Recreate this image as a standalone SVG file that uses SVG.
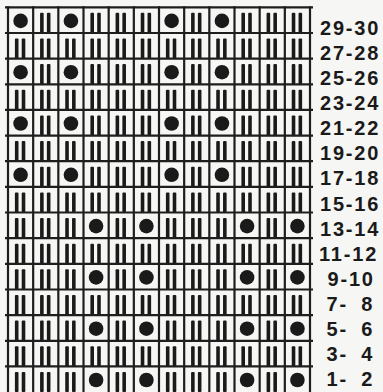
<svg xmlns="http://www.w3.org/2000/svg" xmlns:xlink="http://www.w3.org/1999/xlink" width="383" height="392" viewBox="0 0 383 392">
<style>
.grid line{stroke:#1e1e1e;stroke-width:2.2}
.ink{fill:#1a1a1a}
.lbl{font-family:"Liberation Sans",Arial,sans-serif;font-weight:bold;font-size:20px;letter-spacing:1.8px;fill:#1a1a1a}
</style>
<defs>
<g id="b"><rect class="ink" x="6.9" y="5.5" width="3.6" height="20.2" rx="1"/><rect class="ink" x="13.7" y="5.5" width="3.6" height="20.2" rx="1"/></g>
<circle id="d" class="ink" cx="12.6" cy="13.6" r="7.3"/>
</defs>
<rect width="383" height="392" fill="#f6f6f4"/>
<g id="cells">
<g id="row-29-30" transform="translate(0,7.3)"><use href="#d" x="8"/><use href="#b" x="33.17"/><use href="#d" x="58.33"/><use href="#b" x="83.5"/><use href="#b" x="108.67"/><use href="#b" x="133.83"/><use href="#d" x="159"/><use href="#b" x="184.17"/><use href="#d" x="209.33"/><use href="#b" x="234.5"/><use href="#b" x="259.67"/><use href="#b" x="284.83"/></g>
<g id="row-27-28" transform="translate(0,33)"><use href="#b" x="8"/><use href="#b" x="33.17"/><use href="#b" x="58.33"/><use href="#b" x="83.5"/><use href="#b" x="108.67"/><use href="#b" x="133.83"/><use href="#b" x="159"/><use href="#b" x="184.17"/><use href="#b" x="209.33"/><use href="#b" x="234.5"/><use href="#b" x="259.67"/><use href="#b" x="284.83"/></g>
<g id="row-25-26" transform="translate(0,58.6)"><use href="#d" x="8"/><use href="#b" x="33.17"/><use href="#d" x="58.33"/><use href="#b" x="83.5"/><use href="#b" x="108.67"/><use href="#b" x="133.83"/><use href="#d" x="159"/><use href="#b" x="184.17"/><use href="#d" x="209.33"/><use href="#b" x="234.5"/><use href="#b" x="259.67"/><use href="#b" x="284.83"/></g>
<g id="row-23-24" transform="translate(0,84.3)"><use href="#b" x="8"/><use href="#b" x="33.17"/><use href="#b" x="58.33"/><use href="#b" x="83.5"/><use href="#b" x="108.67"/><use href="#b" x="133.83"/><use href="#b" x="159"/><use href="#b" x="184.17"/><use href="#b" x="209.33"/><use href="#b" x="234.5"/><use href="#b" x="259.67"/><use href="#b" x="284.83"/></g>
<g id="row-21-22" transform="translate(0,109.9)"><use href="#d" x="8"/><use href="#b" x="33.17"/><use href="#d" x="58.33"/><use href="#b" x="83.5"/><use href="#b" x="108.67"/><use href="#b" x="133.83"/><use href="#d" x="159"/><use href="#b" x="184.17"/><use href="#d" x="209.33"/><use href="#b" x="234.5"/><use href="#b" x="259.67"/><use href="#b" x="284.83"/></g>
<g id="row-19-20" transform="translate(0,135.6)"><use href="#b" x="8"/><use href="#b" x="33.17"/><use href="#b" x="58.33"/><use href="#b" x="83.5"/><use href="#b" x="108.67"/><use href="#b" x="133.83"/><use href="#b" x="159"/><use href="#b" x="184.17"/><use href="#b" x="209.33"/><use href="#b" x="234.5"/><use href="#b" x="259.67"/><use href="#b" x="284.83"/></g>
<g id="row-17-18" transform="translate(0,161.2)"><use href="#d" x="8"/><use href="#b" x="33.17"/><use href="#d" x="58.33"/><use href="#b" x="83.5"/><use href="#b" x="108.67"/><use href="#b" x="133.83"/><use href="#d" x="159"/><use href="#b" x="184.17"/><use href="#d" x="209.33"/><use href="#b" x="234.5"/><use href="#b" x="259.67"/><use href="#b" x="284.83"/></g>
<g id="row-15-16" transform="translate(0,186.9)"><use href="#b" x="8"/><use href="#b" x="33.17"/><use href="#b" x="58.33"/><use href="#b" x="83.5"/><use href="#b" x="108.67"/><use href="#b" x="133.83"/><use href="#b" x="159"/><use href="#b" x="184.17"/><use href="#b" x="209.33"/><use href="#b" x="234.5"/><use href="#b" x="259.67"/><use href="#b" x="284.83"/></g>
<g id="row-13-14" transform="translate(0,212.5)"><use href="#b" x="8"/><use href="#b" x="33.17"/><use href="#b" x="58.33"/><use href="#d" x="83.5"/><use href="#b" x="108.67"/><use href="#d" x="133.83"/><use href="#b" x="159"/><use href="#b" x="184.17"/><use href="#b" x="209.33"/><use href="#d" x="234.5"/><use href="#b" x="259.67"/><use href="#d" x="284.83"/></g>
<g id="row-11-12" transform="translate(0,238.2)"><use href="#b" x="8"/><use href="#b" x="33.17"/><use href="#b" x="58.33"/><use href="#b" x="83.5"/><use href="#b" x="108.67"/><use href="#b" x="133.83"/><use href="#b" x="159"/><use href="#b" x="184.17"/><use href="#b" x="209.33"/><use href="#b" x="234.5"/><use href="#b" x="259.67"/><use href="#b" x="284.83"/></g>
<g id="row-9-10" transform="translate(0,263.8)"><use href="#b" x="8"/><use href="#b" x="33.17"/><use href="#b" x="58.33"/><use href="#d" x="83.5"/><use href="#b" x="108.67"/><use href="#d" x="133.83"/><use href="#b" x="159"/><use href="#b" x="184.17"/><use href="#b" x="209.33"/><use href="#d" x="234.5"/><use href="#b" x="259.67"/><use href="#d" x="284.83"/></g>
<g id="row-7-8" transform="translate(0,289.5)"><use href="#b" x="8"/><use href="#b" x="33.17"/><use href="#b" x="58.33"/><use href="#b" x="83.5"/><use href="#b" x="108.67"/><use href="#b" x="133.83"/><use href="#b" x="159"/><use href="#b" x="184.17"/><use href="#b" x="209.33"/><use href="#b" x="234.5"/><use href="#b" x="259.67"/><use href="#b" x="284.83"/></g>
<g id="row-5-6" transform="translate(0,315.1)"><use href="#b" x="8"/><use href="#b" x="33.17"/><use href="#b" x="58.33"/><use href="#d" x="83.5"/><use href="#b" x="108.67"/><use href="#d" x="133.83"/><use href="#b" x="159"/><use href="#b" x="184.17"/><use href="#b" x="209.33"/><use href="#d" x="234.5"/><use href="#b" x="259.67"/><use href="#d" x="284.83"/></g>
<g id="row-3-4" transform="translate(0,340.8)"><use href="#b" x="8"/><use href="#b" x="33.17"/><use href="#b" x="58.33"/><use href="#b" x="83.5"/><use href="#b" x="108.67"/><use href="#b" x="133.83"/><use href="#b" x="159"/><use href="#b" x="184.17"/><use href="#b" x="209.33"/><use href="#b" x="234.5"/><use href="#b" x="259.67"/><use href="#b" x="284.83"/></g>
<g id="row-1-2" transform="translate(0,366.4)"><use href="#b" x="8"/><use href="#b" x="33.17"/><use href="#b" x="58.33"/><use href="#d" x="83.5"/><use href="#b" x="108.67"/><use href="#d" x="133.83"/><use href="#b" x="159"/><use href="#b" x="184.17"/><use href="#b" x="209.33"/><use href="#d" x="234.5"/><use href="#b" x="259.67"/><use href="#d" x="284.83"/></g>
</g>
<g id="grid" class="grid">
<line x1="8" y1="6.2" x2="8" y2="392"/><line x1="33.17" y1="6.2" x2="33.17" y2="392"/><line x1="58.33" y1="6.2" x2="58.33" y2="392"/><line x1="83.5" y1="6.2" x2="83.5" y2="392"/><line x1="108.67" y1="6.2" x2="108.67" y2="392"/><line x1="133.83" y1="6.2" x2="133.83" y2="392"/><line x1="159" y1="6.2" x2="159" y2="392"/><line x1="184.17" y1="6.2" x2="184.17" y2="392"/><line x1="209.33" y1="6.2" x2="209.33" y2="392"/><line x1="234.5" y1="6.2" x2="234.5" y2="392"/><line x1="259.67" y1="6.2" x2="259.67" y2="392"/><line x1="284.83" y1="6.2" x2="284.83" y2="392"/><line x1="310" y1="6.2" x2="310" y2="392"/>
<line x1="5" y1="7.3" x2="313" y2="7.3"/><line x1="5" y1="33" x2="313" y2="33"/><line x1="5" y1="58.6" x2="313" y2="58.6"/><line x1="5" y1="84.3" x2="313" y2="84.3"/><line x1="5" y1="109.9" x2="313" y2="109.9"/><line x1="5" y1="135.6" x2="313" y2="135.6"/><line x1="5" y1="161.2" x2="313" y2="161.2"/><line x1="5" y1="186.9" x2="313" y2="186.9"/><line x1="5" y1="212.5" x2="313" y2="212.5"/><line x1="5" y1="238.2" x2="313" y2="238.2"/><line x1="5" y1="263.8" x2="313" y2="263.8"/><line x1="5" y1="289.5" x2="313" y2="289.5"/><line x1="5" y1="315.1" x2="313" y2="315.1"/><line x1="5" y1="340.8" x2="313" y2="340.8"/><line x1="5" y1="366.4" x2="313" y2="366.4"/>
</g>
<g id="labels" class="lbl">
<text x="320" y="35">29-30</text>
<text x="320" y="60.1">27-28</text>
<text x="320" y="85.1">25-26</text>
<text x="320" y="110.2">23-24</text>
<text x="320" y="135.3">21-22</text>
<text x="320" y="160.4">19-20</text>
<text x="320" y="185.4">17-18</text>
<text x="320" y="210.5">15-16</text>
<text x="320" y="235.6">13-14</text>
<text x="319" y="260.6">11-12</text>
<text x="327.5" y="285.7">9-10</text>
<text x="326.5" y="310.8">7-<tspan dx="6"> 8</tspan></text>
<text x="326.5" y="335.8">5-<tspan dx="6"> 6</tspan></text>
<text x="326.5" y="360.9">3-<tspan dx="6"> 4</tspan></text>
<text x="326.5" y="386">1-<tspan dx="6"> 2</tspan></text>
</g>
</svg>
